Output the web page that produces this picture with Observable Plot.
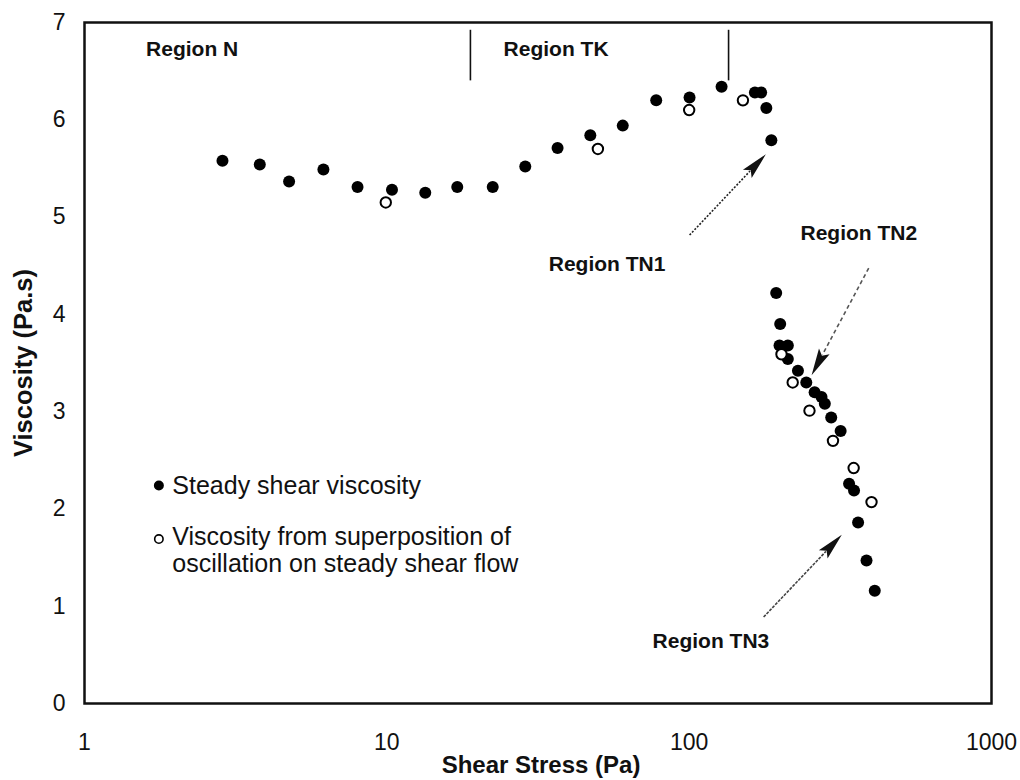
<!DOCTYPE html>
<html>
<head>
<meta charset="utf-8">
<script src="https://cdn.jsdelivr.net/npm/d3@7"></script>
<script src="https://cdn.jsdelivr.net/npm/@observablehq/plot@0.6"></script>
<style>
  html, body { margin: 0; padding: 0; background: #fff; }
  #chart { width: 1020px; height: 780px; }
</style>
</head>
<body>
<div id="chart"></div>
<script>
// Steady shear viscosity (filled circles)
const steadyStress = [2.86, 3.80, 4.75, 6.17, 8.0, 10.4, 13.4, 17.1, 22.4, 28.7, 36.7, 47.1, 60.3, 77.8, 100.3, 128, 165, 173, 180, 187,
  194, 200, 199, 212, 212, 229, 244, 260, 274, 281, 295, 317, 338, 351, 362, 386, 411];
const steadyVisc = [5.58, 5.54, 5.365, 5.49, 5.31, 5.28, 5.25, 5.31, 5.31, 5.52, 5.71, 5.84, 5.94, 6.20, 6.23, 6.34, 6.28, 6.28, 6.12, 5.79,
  4.22, 3.90, 3.68, 3.68, 3.54, 3.42, 3.30, 3.20, 3.15, 3.08, 2.94, 2.80, 2.26, 2.19, 1.86, 1.47, 1.16];
// Viscosity from superposition of oscillation on steady shear flow (open circles)
const oscStress = [9.92, 49.9, 100, 150.6, 202, 220, 250, 299, 350, 401];
const oscVisc = [5.15, 5.70, 6.10, 6.20, 3.59, 3.30, 3.01, 2.70, 2.42, 2.07];

const xTicks = [1, 10, 100, 1000];
const yTicks = [0, 1, 2, 3, 4, 5, 6, 7];

// Region labels (data coordinates)
const regionText = ["Region N", "Region TK", "Region TN1", "Region TN2", "Region TN3"];
const regionX = [2.27, 36.3, 53.5, 364, 118];
const regionY = [6.72, 6.72, 4.52, 4.83, 0.637];

// Region boundary markers
const boundaryX = [18.9, 135];
const boundaryY1 = [6.92, 6.92];
const boundaryY2 = [6.40, 6.40];

// Arrows: tail -> tip (data coordinates)
const arrowX1 = [100.7, 394, 177];
const arrowY1 = [4.81, 4.47, 0.884];
const arrowX2 = [180, 255, 321];
const arrowY2 = [5.64, 3.37, 1.73];
const arrowDash = ["2,1.6", "4,3", "3,1.2"];
const arrowColor = ["#222", "#555", "#444"];

// Legend
const legendLabels = ["Steady shear viscosity", "Viscosity from superposition of", "oscillation on steady shear flow"];
const legendMarkX = 1.762, legendTextX = 1.952;
const legendMarkY = [2.24, 1.69];
const legendTextY = [2.24, 1.71, 1.436];

const steady = steadyStress.map((x, i) => ({x, y: steadyVisc[i]}));
const osc = oscStress.map((x, i) => ({x, y: oscVisc[i]}));
const regions = regionText.map((t, i) => ({t, x: regionX[i], y: regionY[i]}));
const bounds = boundaryX.map((x, i) => ({x, y1: boundaryY1[i], y2: boundaryY2[i]}));
const arrows = arrowX1.map((x1, i) => ({x1, y1: arrowY1[i], x2: arrowX2[i], y2: arrowY2[i], dash: arrowDash[i], color: arrowColor[i]}));

function arrowMark(index, scales) {
  const g = d3.create("svg:g");
  for (const a of arrows) {
    const x1 = scales.x(a.x1), y1 = scales.y(a.y1), x2 = scales.x(a.x2), y2 = scales.y(a.y2);
    const ang = Math.atan2(y2 - y1, x2 - x1);
    const c = Math.cos(ang), s = Math.sin(ang);
    const L = 27, W = 12;
    const bx = x2 - L * c, by = y2 - L * s;
    g.append("line")
      .attr("x1", x1).attr("y1", y1).attr("x2", bx + 4 * c).attr("y2", by + 4 * s)
      .attr("stroke", a.color).attr("stroke-width", 1.6).attr("stroke-dasharray", a.dash);
    const p1 = [bx - (W / 2) * s, by + (W / 2) * c];
    const p2 = [bx + (W / 2) * s, by - (W / 2) * c];
    const notch = [bx + 5 * c, by + 5 * s];
    g.append("path")
      .attr("d", `M${x2},${y2}L${p1[0]},${p1[1]}L${notch[0]},${notch[1]}L${p2[0]},${p2[1]}Z`)
      .attr("fill", "#111");
  }
  return g.node();
}

const chart = Plot.plot({
  width: 1020,
  height: 780,
  marginLeft: 84,
  marginRight: 29,
  marginTop: 22,
  marginBottom: 77,
  style: {fontFamily: "'Liberation Sans', Arial, sans-serif", fontSize: "23px", color: "#111", background: "#fff"},
  x: {type: "log", domain: [1, 1000], ticks: xTicks, tickFormat: d => String(d), tickSize: 0, tickPadding: 30, label: null},
  y: {domain: [0, 7], ticks: yTicks, tickFormat: d => String(d), tickSize: 0, tickPadding: 19, label: null},
  marks: [
    Plot.frame({stroke: "#111", strokeWidth: 2.5}),
    Plot.ruleX(bounds, {x: "x", y1: "y1", y2: "y2", stroke: "#111", strokeWidth: 1.6}),
    Plot.dot(steady, {x: "x", y: "y", r: 6, fill: "#000", stroke: "none"}),
    Plot.dot(osc, {x: "x", y: "y", r: 5.2, fill: "#fff", stroke: "#000", strokeWidth: 2}),
    arrowMark,
    Plot.text(regions, {x: "x", y: "y", text: "t", fontSize: 21, fontWeight: "bold", fill: "#111"}),
    Plot.dot(legendMarkY, {x: () => legendMarkX, y: d => d, r: 4.2, fill: (d, i) => i === 0 ? "#000" : "#fff", stroke: "#000", strokeWidth: 1.6}),
    Plot.text(legendLabels, {x: () => legendTextX, y: (d, i) => legendTextY[i], text: d => d, textAnchor: "start", fontSize: 25, fill: "#111"}),
    Plot.text(["Shear Stress (Pa)"], {frameAnchor: "bottom", dx: 3, dy: 62, textAnchor: "middle", lineAnchor: "middle", text: d => d, fontSize: 24, fontWeight: "bold", fill: "#111"}),
    Plot.text(["Viscosity (Pa.s)"], {frameAnchor: "left", dx: -61, textAnchor: "middle", lineAnchor: "middle", text: d => d, rotate: -90, fontSize: 25.5, fontWeight: "bold", fill: "#111"})
  ]
});
document.getElementById("chart").appendChild(chart);
</script>
</body>
</html>
